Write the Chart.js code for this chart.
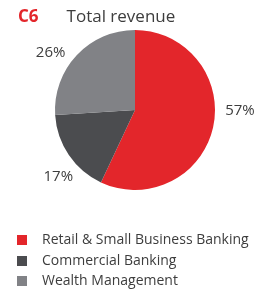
<!DOCTYPE html>
<html>
<head>
<meta charset="utf-8">
<script src="https://cdn.jsdelivr.net/npm/chart.js@4/dist/chart.umd.min.js"></script>
<style>
  body { margin: 0; background: #fff; font-family: "Open Sans", sans-serif; }
  #wrap { position: relative; width: 260px; height: 292px; overflow: hidden; }
  #chart { position: absolute; left: 0; top: 0; }
  #title { position: absolute; left: 18px; top: 4px; font-size: 17px; color: #3d3d3d; white-space: nowrap; }
  #title b { color: #e3262b; font-weight: 700; margin-right: 28px; }
  #legend { position: absolute; left: 17px; top: 229px; font-size: 14px; color: #3d3d3d; }
  .item { height: 20.5px; line-height: 20px; white-space: nowrap; }
  .box { display: inline-block; width: 10px; height: 10px; margin-right: 15px; vertical-align: -1px; }
</style>
</head>
<body>
<div id="wrap">
  <canvas id="chart" width="260" height="292"></canvas>
  <div id="title"><b>C6</b>Total revenue</div>
  <div id="legend"></div>
</div>
<script>
// data
var segments = ['Retail & Small Business Banking', 'Commercial Banking', 'Wealth Management'];
var shares = [57, 17, 26];
var colours = ['#e3262b', '#4b4c4f', '#818286'];

// small nudges so the % labels sit where the original has them (degrees)
var labelNudge = [-12, -7, -9];

// legend in html
var legendHtml = '';
for (var i = 0; i < segments.length; i++) {
    legendHtml += '<div class="item"><span class="box" style="background:' + colours[i] + '"></span>' +
        segments[i].replace('&', '&amp;') + '</div>';
}
document.getElementById('legend').innerHTML = legendHtml;

var pctLabels = {
    id: 'pctLabels',
    afterDatasetsDraw: function(chart) {
        var ctx = chart.ctx;
        var arcs = chart.getDatasetMeta(0).data;
        ctx.save();
        ctx.font = '15px "Open Sans", sans-serif';
        ctx.fillStyle = '#3d3d3d';
        ctx.textAlign = 'center';
        ctx.textBaseline = 'middle';
        arcs.forEach(function(arc, i) {
            var mid = (arc.startAngle + arc.endAngle) / 2 + labelNudge[i] * Math.PI / 180;
            var r = arc.outerRadius + (i == 0 ? 25 : 22);
            ctx.fillText(shares[i] + '%', arc.x + Math.cos(mid) * r, arc.y + Math.sin(mid) * r);
        });
        ctx.restore();
    }
};

var ctx = document.getElementById('chart').getContext('2d');
var chart = new Chart(ctx, {
    type: 'pie',
    data: {
        labels: segments,
        datasets: [{
            data: shares,
            backgroundColor: colours,
            borderWidth: 0
        }]
    },
    options: {
        responsive: false,
        animation: false,
        layout: {
            padding: { left: 55, right: 45, top: 30, bottom: 102 }
        },
        plugins: {
            legend: { display: false },
            title: { display: false },
            tooltip: { enabled: false }
        }
    },
    plugins: [pctLabels]
});
</script>
</body>
</html>
